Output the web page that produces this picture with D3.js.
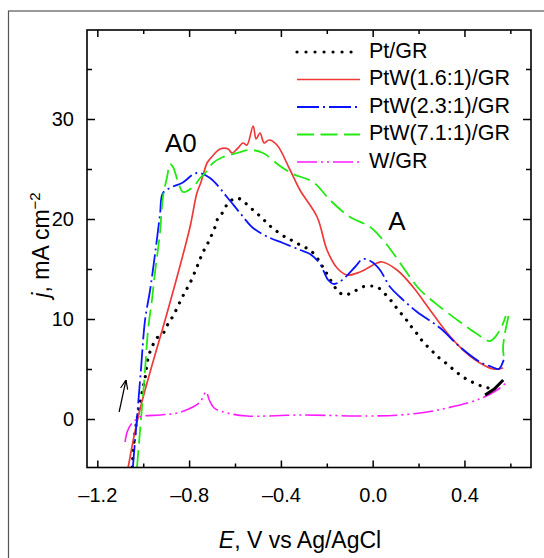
<!DOCTYPE html>
<html>
<head>
<meta charset="utf-8">
<script src="https://cdn.jsdelivr.net/npm/d3@7"></script>
<style>
	body { margin: 0; background: #fff; }
	svg { display: block; font-family: "Liberation Sans", Arial, sans-serif; }
</style>
</head>
<body>
<svg id="chart" width="544" height="558"></svg>
<script>
// Pt/GR
const ptE = [-1.048, -1.036, -1.014, -0.992, -0.975, -0.94, -0.909, -0.892, -0.87, -0.84, -0.818, -0.796, -0.766, -0.739, -0.718, -0.687, -0.674, -0.652, -0.63, -0.591, -0.556, -0.521, -0.482, -0.447, -0.382, -0.347, -0.308, -0.273, -0.242, -0.22, -0.199, -0.155, -0.125, -0.085, -0.046, -0.016, 0.019, 0.054, 0.085, 0.111, 0.141, 0.163, 0.194, 0.22, 0.255, 0.285, 0.324, 0.359, 0.394, 0.425, 0.46, 0.494, 0.52];
const ptJ = [-4.8, -1.4, 1.6, 4.1, 6.4, 8.1, 8.7, 9.5, 10.3, 11.7, 12.7, 13.6, 15.2, 16.7, 17.6, 19.2, 20.1, 20.7, 21.6, 22.1, 21.6, 20.9, 20.1, 19.3, 18.2, 17.8, 17.3, 16.9, 16.1, 15.3, 14.5, 12.9, 12.4, 12.7, 13.2, 13.3, 13.2, 12.5, 11.7, 10.9, 10.1, 9.4, 8.5, 7.7, 6.9, 6.2, 5.5, 4.8, 4.2, 3.8, 3.4, 3.2, 2.9];
// end of the Pt/GR scan (dense, looks solid)
const ptTailE = [0.49, 0.53, 0.569];
const ptTailJ = [2.4, 3.0, 3.9];

// PtW(1.6:1)/GR
const redE = [-1.066, -1.018, -0.896, -0.848, -0.796, -0.766, -0.748, -0.722, -0.709, -0.665, -0.63, -0.613, -0.591, -0.565, -0.548, -0.521, -0.508, -0.491, -0.473, -0.452, -0.417, -0.36, -0.317, -0.242, -0.199, -0.155, -0.112, -0.055, 0.019, 0.041, 0.106, 0.176, 0.25, 0.325, 0.394, 0.468, 0.525, 0.569];
const redJ = [-4.9, 0.6, 10.6, 14.6, 19.2, 22.6, 23.7, 25.6, 26.0, 27.0, 27.0, 26.6, 27.0, 27.6, 27.4, 29.3, 28.0, 28.6, 27.6, 27.9, 27.4, 24.9, 22.9, 20.2, 16.9, 15.1, 14.4, 14.7, 15.6, 15.7, 14.9, 13.2, 10.9, 8.6, 6.9, 5.6, 5.0, 5.1];

// PtW(2.3:1)/GR
const blueE = [-1.045, -1.028, -1.01, -0.992, -0.97, -0.949, -0.927, -0.914, -0.874, -0.831, -0.766, -0.709, -0.635, -0.578, -0.521, -0.447, -0.391, -0.316, -0.273, -0.229, -0.194, -0.168, -0.133, -0.077, -0.042, -0.003, 0.032, 0.076, 0.119, 0.194, 0.294, 0.381, 0.468, 0.521, 0.55, 0.575];
const blueJ = [-4.8, -0.1, 4.9, 9.9, 12.9, 16.4, 20.4, 22.6, 23.2, 23.6, 24.6, 24.1, 22.2, 20.6, 19.1, 18.1, 17.6, 16.9, 16.5, 15.5, 13.9, 13.5, 13.9, 15.2, 16.0, 15.7, 14.9, 13.2, 12.2, 10.7, 9.1, 7.2, 5.7, 5.2, 5.0, 6.2];

// PtW(7.1:1)/GR
const greenE = [-1.027, -1.01, -0.992, -0.979, -0.962, -0.949, -0.927, -0.914, -0.896, -0.883, -0.87, -0.848, -0.826, -0.783, -0.752, -0.722, -0.696, -0.652, -0.591, -0.534, -0.478, -0.404, -0.347, -0.26, -0.186, -0.099, -0.011, 0.045, 0.089, 0.15, 0.207, 0.294, 0.381, 0.455, 0.512, 0.555, 0.58];
const greenJ = [-4.8, -0.1, 4.9, 8.9, 11.9, 14.6, 18.6, 22.2, 24.2, 25.5, 25.2, 23.7, 22.7, 23.2, 24.1, 24.8, 25.6, 26.2, 26.6, 26.9, 26.6, 25.3, 24.5, 23.7, 21.9, 20.2, 19.2, 17.9, 16.6, 14.6, 12.9, 11.2, 9.7, 8.5, 7.8, 8.9, 10.3];
const greenBackE = [0.592, 0.575, 0.568, 0.572];
const greenBackJ = [10.3, 8.4, 7.0, 6.2];

// W/GR
const wE = [-1.079, -1.07, -1.052, -1.013, -0.926, -0.852, -0.783, -0.752, -0.726, -0.712, -0.691, -0.634, -0.547, -0.316, -0.024, 0.119, 0.237, 0.324, 0.412, 0.477, 0.542, 0.586];
const wJ = [-2.3, -1.3, -0.5, 0.2, 0.4, 0.6, 1.2, 1.7, 2.7, 1.9, 1.1, 0.6, 0.3, 0.4, 0.3, 0.4, 0.7, 1.1, 1.6, 2.1, 2.9, 3.7];

const seriesNames = ["Pt/GR", "PtW(1.6:1)/GR", "PtW(2.3:1)/GR", "PtW(7.1:1)/GR", "W/GR"];

const xMajor = [-1.2, -0.8, -0.4, 0.0, 0.4];
const xMinor = [-1.0, -0.6, -0.2, 0.2, 0.6];
const yMajor = [0, 10, 20, 30];
const yMinor = [5, 15, 25, 35];

// annotations (data coordinates)
const peakLabels = [{ text: "A0", e: -0.905, j: 26.7 }, { text: "A", e: 0.068, j: 18.9 }];
const arrowE = [-1.105, -1.075];
const arrowJ = [0.7, 3.9];

// ---------------------------------------------------------------
const box = { left: 87, right: 531, top: 30, bottom: 467.5 };

let svg = d3.select("#chart");

// outer frame of the figure
svg.append("rect")
	.attr("x", 8.5).attr("y", 11)
	.attr("width", 600).attr("height", 600)
	.attr("fill", "none")
	.attr("stroke", "#555")
	.attr("stroke-width", 1.2);

let x = d3.scaleLinear().domain([-1.245, 0.69]).range([box.left, box.right]);
let y = d3.scaleLinear().domain([-4.85, 38.9]).range([box.bottom, box.top]);

const styles = {
	"Pt/GR": { color: "#000", width: 3.2, dash: "0.01 8.3", cap: "round" },
	"PtW(1.6:1)/GR": { color: "#ee3a3a", width: 1.7, dash: null, cap: "butt" },
	"PtW(2.3:1)/GR": { color: "#0a14ff", width: 1.8, dash: "22 4 2 4", cap: "butt" },
	"PtW(7.1:1)/GR": { color: "#22ea10", width: 1.8, dash: "17 6.5", cap: "butt" },
	"W/GR": { color: "#ff1aff", width: 1.6, dash: "20 4 2 4 2 4", cap: "butt" }
};

let zip = (es, js) => es.map((e, i) => ({ e: e, j: js[i] }));

let curves = [
	{ name: "Pt/GR", pts: zip(ptE, ptJ) },
	{ name: "PtW(1.6:1)/GR", pts: zip(redE, redJ) },
	{ name: "PtW(2.3:1)/GR", pts: zip(blueE, blueJ) },
	{ name: "PtW(7.1:1)/GR", pts: zip(greenE, greenJ) },
	{ name: "PtW(7.1:1)/GR", pts: zip(greenBackE, greenBackJ) },
	{ name: "W/GR", pts: zip(wE, wJ) }
];

svg.append("clipPath").attr("id", "plot-clip")
	.append("rect")
	.attr("x", box.left).attr("y", box.top)
	.attr("width", box.right - box.left).attr("height", box.bottom - box.top);

let line = d3.line()
	.x((d) => x(d.e))
	.y((d) => y(d.j))
	.curve(d3.curveCatmullRom.alpha(0.5));

let plotG = svg.append("g").attr("clip-path", "url(#plot-clip)");

plotG.selectAll("path.curve")
	.data(curves)
	.join("path")
	.classed("curve", true)
	.attr("d", (d) => line(d.pts))
	.attr("fill", "none")
	.attr("stroke", (d) => styles[d.name].color)
	.attr("stroke-width", (d) => styles[d.name].width)
	.attr("stroke-dasharray", (d) => styles[d.name].dash)
	.attr("stroke-linecap", (d) => styles[d.name].cap);

plotG.append("path")
	.attr("d", d3.line().x((d) => x(d.e)).y((d) => y(d.j))(zip(ptTailE, ptTailJ)))
	.attr("fill", "none")
	.attr("stroke", "#000")
	.attr("stroke-width", 3);

// axes: ticks point inward on all four sides
let fmtX = (d) => (d < 0 ? "\u2013" + Math.abs(d).toFixed(1) : d.toFixed(1));

function axisG(axis, tx, ty) {
	let g = svg.append("g")
		.attr("transform", `translate(${tx}, ${ty})`)
		.call(axis);
	g.select(".domain").remove();
	g.selectAll(".tick line").attr("stroke", "#000").attr("stroke-width", 1.5);
	g.selectAll("text")
		.attr("fill", "#000")
		.style("font-family", "'Liberation Sans', Arial, sans-serif")
		.style("font-size", "20px");
	return g;
}

axisG(d3.axisBottom(x).tickValues(xMajor).tickFormat(fmtX).tickSizeInner(-7).tickSizeOuter(0).tickPadding(20), 0, box.bottom);
axisG(d3.axisBottom(x).tickValues(xMinor).tickFormat("").tickSizeInner(-4).tickSizeOuter(0), 0, box.bottom);
axisG(d3.axisTop(x).tickValues(xMajor).tickFormat("").tickSizeInner(-7).tickSizeOuter(0), 0, box.top);
axisG(d3.axisTop(x).tickValues(xMinor).tickFormat("").tickSizeInner(-4).tickSizeOuter(0), 0, box.top);

axisG(d3.axisLeft(y).tickValues(yMajor).tickFormat(d3.format("d")).tickSizeInner(-8).tickSizeOuter(0).tickPadding(13), box.left, 0);
axisG(d3.axisLeft(y).tickValues(yMinor).tickFormat("").tickSizeInner(-5).tickSizeOuter(0), box.left, 0);
axisG(d3.axisRight(y).tickValues(yMajor).tickFormat("").tickSizeInner(-8).tickSizeOuter(0), box.right, 0);
axisG(d3.axisRight(y).tickValues(yMinor).tickFormat("").tickSizeInner(-5).tickSizeOuter(0), box.right, 0);

svg.append("rect")
	.attr("x", box.left).attr("y", box.top)
	.attr("width", box.right - box.left).attr("height", box.bottom - box.top)
	.attr("fill", "none")
	.attr("stroke", "#000")
	.attr("stroke-width", 1.6);

// axis titles
let xTitle = svg.append("text")
	.attr("x", 300).attr("y", 548)
	.attr("text-anchor", "middle")
	.style("font-size", "23px");
xTitle.append("tspan").style("font-style", "italic").text("E");
xTitle.append("tspan").text(", V vs Ag/AgCl");

let yTitle = svg.append("text")
	.attr("transform", "translate(49, 245) rotate(-90)")
	.attr("text-anchor", "middle")
	.style("font-size", "23px");
yTitle.append("tspan").style("font-style", "italic").text("j");
yTitle.append("tspan").text(", mA cm");
yTitle.append("tspan").attr("dy", -9).style("font-size", "15px").text("\u22122");

// peak labels
svg.selectAll("text.peak")
	.data(peakLabels)
	.join("text")
	.classed("peak", true)
	.attr("x", (d) => x(d.e))
	.attr("y", (d) => y(d.j))
	.style("font-size", "26px")
	.text((d) => d.text);

// scan direction arrow
svg.append("defs").append("marker")
	.attr("id", "arrowhead")
	.attr("viewBox", "0 0 10 10")
	.attr("refX", 10).attr("refY", 5)
	.attr("markerWidth", 9).attr("markerHeight", 9)
	.attr("markerUnits", "userSpaceOnUse")
	.attr("orient", "auto")
	.append("path")
	.attr("d", "M0,1 L10,5 L0,9")
	.attr("fill", "none")
	.attr("stroke", "#000")
	.attr("stroke-width", 1.3);

svg.append("line")
	.attr("x1", x(arrowE[0])).attr("y1", y(arrowJ[0]))
	.attr("x2", x(arrowE[1])).attr("y2", y(arrowJ[1]))
	.attr("stroke", "#000")
	.attr("stroke-width", 1.2)
	.attr("marker-end", "url(#arrowhead)");

// legend
let legendG = svg.append("g").attr("transform", "translate(297, 52)");

let legendRow = legendG.selectAll("g.row")
	.data(seriesNames)
	.join("g")
	.classed("row", true)
	.attr("transform", (d, i) => `translate(0, ${i * 27.5})`);

legendRow.append("line")
	.attr("x1", 0).attr("x2", 63)
	.attr("stroke", (d) => styles[d].color)
	.attr("stroke-width", (d) => styles[d].width)
	.attr("stroke-dasharray", (d) => (d === "Pt/GR" ? "0.01 9" : styles[d].dash))
	.attr("stroke-linecap", (d) => styles[d].cap);

legendRow.append("text")
	.attr("x", 72)
	.attr("y", 5.5)
	.style("font-size", "21.5px")
	.text((d) => d);
</script>
</body>
</html>
